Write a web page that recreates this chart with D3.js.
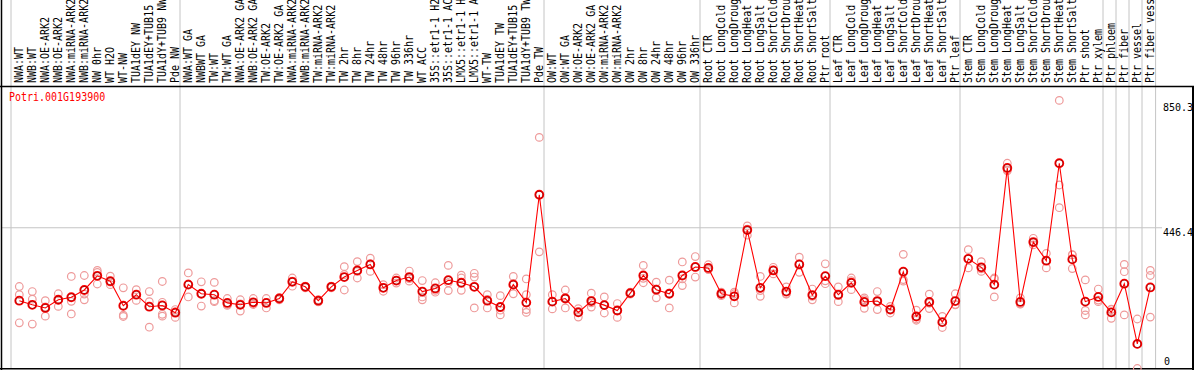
<!DOCTYPE html>
<html><head><meta charset="utf-8">
<script src="https://cdn.jsdelivr.net/npm/d3@7"></script>
<style>body{margin:0;background:#fff}svg{display:block}</style>
</head><body><svg id="c" width="1194" height="370"></svg>
<script>
const title = "Potri.001G193900";
const categories = [
 "NWA:WT","NWB:WT","NWA:OE-ARK2","NWB:OE-ARK2","NWA:miRNA-ARK2","NWB:miRNA-ARK2","NW 0hr","WT H2O","WT-NW","TUA1dEY NW","TUA1dEY+TUB15 NW","TUA1dY+TUB9 NW","Pde NW",
 "NWA:WT GA","NWBWT GA","TW:WT","TW:WT GA","NWA:OE-ARK2 GA","NWB:OE-ARK2 GA","TW:OE-ARK2","TW:OE-ARK2 GA","NWA:miRNA-ARK2","NWB:miRNA-ARK2","TW:miRNA-ARK2","TW:miRNA-ARK2","TW 2hr","TW 8hr","TW 24hr","TW 48hr","TW 96hr","TW 336hr","WT ACC","35S::etr1-1 H2O","35S::etr1-1 ACC","LMX5::etr1-1 H2O","LMX5::etr1-1 ACC","WT-TW","TUA1dEY TW","TUA1dEY+TUB15 TW","TUA1dY+TUB9 TW","Pde TW",
 "OW:WT","OW:WT GA","OW:OE-ARK2","OW:OE-ARK2 GA","OW:miRNA-ARK2","OW:miRNA-ARK2","OW 2hr","OW 8hr","OW 24hr","OW 48hr","OW 96hr","OW 336hr",
 "Root CTR","Root LongCold","Root LongDrought","Root LongHeat","Root LongSalt","Root ShortCold","Root ShortDrought","Root ShortHeat","Root ShortSalt","Ptr root",
 "Leaf CTR","Leaf LongCold","Leaf LongDrought","Leaf LongHeat","Leaf LongSalt","Leaf ShortCold","Leaf ShortDrought","Leaf ShortHeat","Leaf ShortSalt","Ptr leaf",
 "Stem CTR","Stem LongCold","Stem LongDrought","Stem LongHeat","Stem LongSalt","Stem ShortCold","Stem ShortDrought","Stem ShortHeat","Stem ShortSalt","Ptr shoot","Ptr xylem",
 "Ptr phloem","Ptr fiber","Ptr vessel","Ptr fiber vessel"
];
const groupStarts = [0,13,41,53,63,73,84,85,86,87];
const means = [215,202,192,218,226,249,294,277,199,234,196,200,177,
 266,237,234,208,202,210,208,222,275,259,215,259,290,311,330,256,279,290,244,254,280,272,259,215,195,266,209,551,
 212,222,178,214,201,184,239,295,250,237,295,322,
 319,237,229,439,256,311,244,330,233,293,
 234,272,211,214,187,307,165,211,147,214,
 348,321,266,636,211,401,342,651,346,212,227,
 178,269,78,257];
const replicates = [
 [260,234,145],[244,220,141],[215,166,195],[237,217,197],[292,213,173],[295,236,218],[311,305,268],[293,266,274],[256,169,165],[250,216,234],[244,212,131],[276,210,172,166],[187,162,180],
 [303,227,268],[275,198,237],[273,215,212],[222,203,200],[218,182,205],[222,206,203],[222,192,210],[225,218,222],[287,261,277],[261,256,259],[218,211,215],[261,256,259],[323,249,298],[339,287,308],[350,308,332],[266,245,256],[287,271,279],[309,277,285],[279,227,218],[272,242,248],[327,272,247],[296,287,248],[302,290,192],[234,192,219],[231,170,185],[292,237,270],[284,234,187,178],[733,370,551],
 [234,189,213],[249,192,225],[190,163,181],[239,195,208],[227,176,200],[206,162,184],[242,236,239],[327,272,286],[274,224,252],[280,192,239],[338,263,284],[355,290,321],
 [329,314,314],[242,231,238],[242,208,237],[452,423,442],[292,229,247],[321,300,312],[259,236,237],[353,305,332],[252,218,229],[332,269,278],
 [259,212,231],[287,250,279],[224,191,218],[244,187,211],[197,176,188],[362,277,282],[185,153,157],[236,190,207],[165,130,146],[237,202,203],
 [377,319,348],[339,308,316],[287,227,284],[651,627,630],[224,205,204],[413,392,398],[365,319,342],[850.3,582,510],[360,317,361],[281,184,170],[252,212,217],
 [187,159,188],[330,307,170],[157,0,77],[311,295,163]
];
const yMax = 892.8;
const yGridTicks = [446.4];
const maxValueLabel = "850.3";
const zeroLabel = "0";

const svg = d3.select("#c");
const W = 1194, H = 370;
const x = d3.scalePoint().domain(d3.range(categories.length)).range([19.3, 1150.3]);
const y = d3.scaleLinear().domain([0, yMax]).range([368.5, 87]);
const mono = "'DejaVu Sans Mono', monospace";

// vertical grid lines (group boundaries)
const gx = groupStarts.map(i => x(i) - 8.3).concat([x(categories.length-1) + 5.3]);
svg.append("g").selectAll("line").data(gx).join("line")
  .attr("x1", d => d).attr("x2", d => d).attr("y1", 0).attr("y2", 369)
  .attr("stroke", "#c4c4c4").attr("stroke-width", 1);

// horizontal grid line
svg.append("g").selectAll("line").data(yGridTicks).join("line")
  .attr("x1", 1).attr("x2", 1162).attr("y1", d => y(d)).attr("y2", d => y(d))
  .attr("stroke", "#c4c4c4").attr("stroke-width", 1);

// header labels
svg.append("g").selectAll("text").data(categories).join("text")
  .attr("transform", (d,i) => `translate(${x(i)+4},83) rotate(-90) scale(0.833,1)`)
  .attr("font-family", mono).attr("font-size", 12).attr("fill", "#000")
  .text(d => d);

// frame lines
svg.append("line").attr("x1",0).attr("x2",W).attr("y1",86.5).attr("y2",86.5).attr("stroke","#000").attr("stroke-width",1.5);
svg.append("line").attr("x1",0).attr("x2",W).attr("y1",368.8).attr("y2",368.8).attr("stroke","#000").attr("stroke-width",1.5);
svg.append("line").attr("x1",1.5).attr("x2",1.5).attr("y1",0).attr("y2",H).attr("stroke","#000").attr("stroke-width",1.5);
svg.append("line").attr("x1",1193).attr("x2",1193).attr("y1",86).attr("y2",H).attr("stroke","#000").attr("stroke-width",2);

// title
svg.append("text").attr("transform","translate(9,101) scale(0.833,1)")
  .attr("font-family", mono).attr("font-size", 12).attr("fill", "#ff0000").text(title);

// y labels
svg.append("g").selectAll("text").data(yGridTicks).join("text")
  .attr("x", 1163).attr("y", d => y(d) + 8)
  .attr("font-family", mono).attr("font-size", 10).attr("fill","#000").text(d => d.toFixed(1));
svg.append("text").attr("x",1163).attr("y", y(+maxValueLabel) + 10.3)
  .attr("font-family", mono).attr("font-size", 10).attr("fill","#000").text(maxValueLabel);
svg.append("text").attr("x",1164).attr("y", y(0) - 3.5)
  .attr("font-family", mono).attr("font-size", 10).attr("fill","#000").text(zeroLabel);

// replicate circles
const repPts = [];
replicates.forEach((arr, i) => arr.forEach(v => repPts.push([i, v])));
svg.append("g").selectAll("circle").data(repPts).join("circle")
  .attr("cx", d => x(d[0])).attr("cy", d => y(d[1])).attr("r", 3.8)
  .attr("fill", "none").attr("stroke", "#ee9a9a").attr("stroke-width", 1.2);

// mean line
svg.append("path").datum(means)
  .attr("d", d3.line().x((d,i) => x(i)).y(d => y(d)))
  .attr("fill","none").attr("stroke","#ff0000").attr("stroke-width",1.1);

// mean circles
const mg = svg.append("g");
mg.selectAll("circle.o").data(means).join("circle").attr("class","o")
  .attr("cx", (d,i) => x(i)).attr("cy", d => y(d)).attr("r", 4)
  .attr("fill","none").attr("stroke","#ff0000").attr("stroke-width",1.8);
mg.selectAll("circle.i").data(means).join("circle").attr("class","i")
  .attr("cx", (d,i) => x(i)).attr("cy", d => y(d)).attr("r", 3.6)
  .attr("fill","none").attr("stroke","#500000").attr("stroke-width",0.6).attr("opacity",0.7);
</script></body></html>
